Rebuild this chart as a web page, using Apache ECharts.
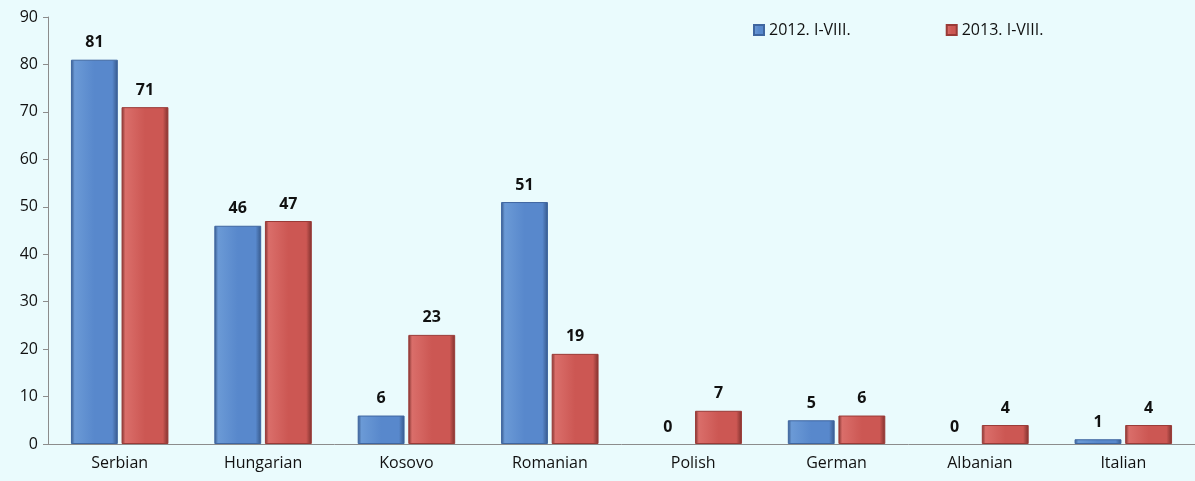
<!DOCTYPE html>
<html>
<head>
<meta charset="utf-8">
<script src="https://cdn.jsdelivr.net/npm/echarts@6/dist/echarts.min.js"></script>
<style>
  html, body { margin: 0; padding: 0; background: #EAFBFD; }
  #chart { width: 1195px; height: 481px; }
</style>
</head>
<body>
<div id="chart"></div>
<script>
var categories = ["Serbian", "Hungarian", "Kosovo", "Romanian", "Polish", "German", "Albanian", "Italian"];
var series2012 = [81, 46, 6, 51, 0, 5, 0, 1];
var series2013 = [71, 47, 23, 19, 7, 6, 4, 4];
var seriesNames = ["2012. I-VIII.", "2013. I-VIII."];

var font = "'Open Sans', 'Noto Sans', sans-serif";

function barColor(light, mid, dark) {
  // fake bevel: light left edge, darker right edge
  return new echarts.graphic.LinearGradient(0, 0, 1, 0, [
    { offset: 0, color: dark },
    { offset: 0.08, color: light },
    { offset: 0.5, color: mid },
    { offset: 0.88, color: mid },
    { offset: 1, color: dark }
  ]);
}

// zero values: keep the label, but no visible bar outline
function toItems(values) {
  return values.map(function (v) {
    return v === 0 ? { value: v, itemStyle: { borderWidth: 0 } } : v;
  });
}

var labelStyle = {
  show: true, position: "top", distance: 9,
  fontWeight: "bold", fontSize: 16, color: "#111", fontFamily: font
};

var chart = echarts.init(document.getElementById("chart"));
chart.setOption({
  backgroundColor: "#EAFBFD",
  animation: false,
  textStyle: { fontFamily: font },
  legend: {
    left: 748,
    top: 17,
    itemGap: 95,
    itemWidth: 10,
    itemHeight: 10,
    icon: "rect",
    textStyle: { fontSize: 16, color: "#111", fontFamily: font },
    data: seriesNames
  },
  grid: { left: 48, right: -4, top: 17, bottom: 37 },
  xAxis: {
    type: "category",
    data: categories,
    axisLine: { show: true, lineStyle: { color: "#8C8C8C", width: 1 } },
    axisTick: { show: false },
    axisLabel: { color: "#111", fontSize: 16, margin: 11, fontFamily: font }
  },
  yAxis: {
    type: "value",
    min: 0,
    max: 90,
    interval: 10,
    axisLine: { show: true, lineStyle: { color: "#8C8C8C", width: 1 } },
    axisTick: { show: true, length: 5, lineStyle: { color: "#8C8C8C" } },
    splitLine: { show: false },
    axisLabel: { color: "#111", fontSize: 16, margin: 10, fontFamily: font }
  },
  series: [
    {
      name: seriesNames[0],
      type: "bar",
      data: toItems(series2012),
      barGap: "8%",
      barCategoryGap: "32%",
      itemStyle: {
        color: barColor("#6B9AD6", "#5888CC", "#36588A"),
        borderColor: "#3F66A0",
        borderWidth: 1
      },
      label: labelStyle
    },
    {
      name: seriesNames[1],
      type: "bar",
      data: toItems(series2013),
      itemStyle: {
        color: barColor("#DA6E6A", "#CC5753", "#7E302D"),
        borderColor: "#9A3A37",
        borderWidth: 1
      },
      label: labelStyle
    }
  ]
});
</script>
</body>
</html>
